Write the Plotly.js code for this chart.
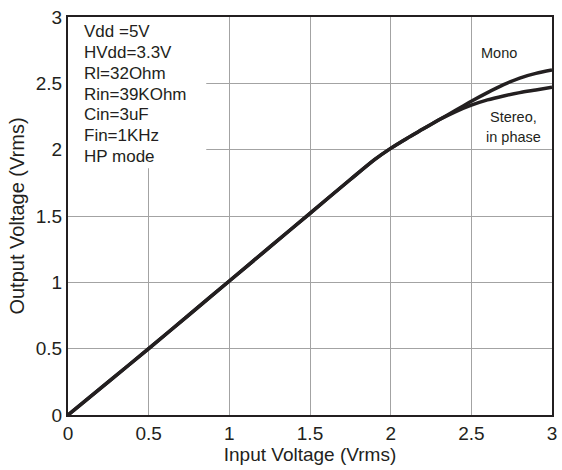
<!DOCTYPE html>
<html>
<head>
<meta charset="utf-8">
<script src="https://cdn.plot.ly/plotly-3.0.1.min.js"></script>
<style>html,body{margin:0;padding:0;background:#fff;}#chart{width:562px;height:470px;}</style>
</head>
<body>
<div id="chart"></div>
<script>
var inputVoltage = [0, 0.25, 0.5, 0.75, 1, 1.25, 1.5, 1.75, 1.9, 2, 2.1, 2.2, 2.3, 2.4, 2.5, 2.6, 2.7, 2.8, 2.9, 3];
var monoOut      = [0, 0.25, 0.5, 0.755, 1.01, 1.265, 1.52, 1.775, 1.925, 2.01, 2.085, 2.155, 2.225, 2.295, 2.365, 2.43, 2.49, 2.54, 2.575, 2.60];
var stereoOut    = [0, 0.25, 0.5, 0.755, 1.01, 1.265, 1.52, 1.775, 1.925, 2.01, 2.085, 2.155, 2.225, 2.285, 2.335, 2.375, 2.405, 2.43, 2.45, 2.47];
var tickVals = [0, 0.5, 1, 1.5, 2, 2.5, 3];
var tickText = ['0', '0.5', '1', '1.5', '2', '2.5', '3'];
var conditions = ['Vdd =5V', 'HVdd=3.3V', 'Rl=32Ohm', 'Rin=39KOhm', 'Cin=3uF', 'Fin=1KHz', 'HP mode'];
var conditionY = [2.891, 2.732, 2.576, 2.418, 2.263, 2.104, 1.948];

var ink = '#231f20';
var font = 'Liberation Sans, Arial, Helvetica, sans-serif';

var traces = [
  {x: inputVoltage, y: monoOut, mode: 'lines', line: {color: ink, width: 3.5, shape: 'spline', smoothing: 0.8}, name: 'Mono', hoverinfo: 'skip'},
  {x: inputVoltage, y: stereoOut, mode: 'lines', line: {color: ink, width: 3.5, shape: 'spline', smoothing: 0.8}, name: 'Stereo, in phase', hoverinfo: 'skip'}
];

var annotations = conditions.map(function (t, i) {
  return {x: 0.088, y: conditionY[i], xref: 'x', yref: 'y', text: t, showarrow: false,
    xanchor: 'left', yanchor: 'middle', font: {family: font, size: 17, color: ink}};
});
annotations.push({x: 2.672, y: 2.726, xref: 'x', yref: 'y', text: 'Mono', showarrow: false,
  xanchor: 'center', yanchor: 'middle', font: {family: font, size: 14.5, color: ink}});
annotations.push({x: 2.76, y: 2.244, xref: 'x', yref: 'y', text: 'Stereo,', showarrow: false,
  xanchor: 'center', yanchor: 'middle', font: {family: font, size: 14.5, color: ink}});
annotations.push({x: 2.76, y: 2.098, xref: 'x', yref: 'y', text: 'in phase', showarrow: false,
  xanchor: 'center', yanchor: 'middle', font: {family: font, size: 14.5, color: ink}});

var axisCommon = {
  range: [0, 3], tickvals: tickVals, ticktext: tickText, showgrid: true, gridcolor: '#a3a3a3', gridwidth: 1,
  zeroline: false, showline: true, mirror: true, linecolor: ink, linewidth: 2, ticks: '',
  tickfont: {family: font, size: 19, color: ink}, fixedrange: true
};

var layout = {
  width: 562, height: 470,
  margin: {l: 68, r: 10, t: 17, b: 55},
  paper_bgcolor: '#ffffff', plot_bgcolor: '#ffffff',
  showlegend: false,
  xaxis: Object.assign({}, axisCommon, {title: {text: 'Input Voltage (Vrms)', font: {family: font, size: 19, color: ink}, standoff: 4}}),
  yaxis: Object.assign({}, axisCommon, {title: {text: 'Output Voltage (Vrms)', font: {family: font, size: 20, color: ink}, standoff: 6}}),
  shapes: [{type: 'rect', xref: 'x', yref: 'y', x0: 0, x1: 0.857, y0: 1.86, y1: 3, fillcolor: '#ffffff', line: {width: 0}, layer: 'between'}],
  annotations: annotations
};

Plotly.newPlot('chart', traces, layout, {displayModeBar: false, staticPlot: true});
</script>
</body>
</html>
